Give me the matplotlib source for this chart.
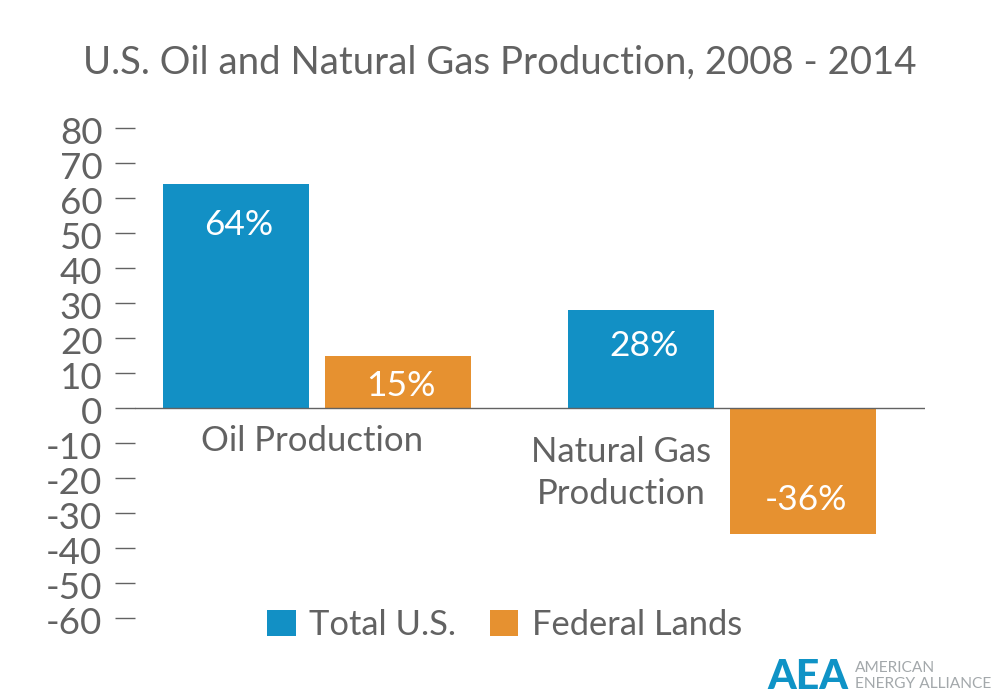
import matplotlib
matplotlib.use('Agg')
import matplotlib.pyplot as plt
from matplotlib.transforms import ScaledTranslation
import numpy as np

plt.rcParams['font.family'] = ['Lato', 'DejaVu Sans']
plt.rcParams['axes.unicode_minus'] = False

# values
groups = ['Oil Production', 'Natural Gas\nProduction']
total_us = [64, 28]
federal = [15, -36]
yticks = [80, 70, 60, 50, 40, 30, 20, 10, 0, -10, -20, -30, -40, -50, -60]

blue = '#1290c5'
orange = '#e69130'
grey = '#626262'

fig = plt.figure(figsize=(10, 7), dpi=100)
ax = fig.add_axes([0.135, 1 - 618 / 700, 0.79, 490 / 700])

x = np.arange(len(groups))
w = 0.36
off = 0.2
b1 = ax.bar(x - off, total_us, w, color=blue, label='Total U.S.')
b2 = ax.bar(x + off, federal, w, color=orange, label='Federal Lands')

# percent labels inside the bars, nudged by hand in pixels
for xi, v, dy in zip(x - off, total_us, [-41, -36]):
    ax.annotate('%d%%' % v, (xi, v), xytext=(3, dy), textcoords='offset pixels',
                ha='center', va='center', color='white', fontsize=25.5)
for xi, v, dy in zip(x + off, federal, [-30, 34]):
    ax.annotate('%d%%' % v, (xi, v), xytext=(3, dy), textcoords='offset pixels',
                ha='center', va='center', color='white', fontsize=25.5)

ax.set_xlim(-0.449, 1.501)
ax.set_ylim(-60, 80)
ax.set_yticks(yticks)
ax.set_xticks([])
ax.tick_params(axis='y', length=14.4, width=1, color=grey, labelcolor=grey, labelsize=26.5, pad=9)
for s in ['top', 'right', 'bottom', 'left']:
    ax.spines[s].set_visible(False)
ax.axhline(0, color=grey, lw=1)

# tick labels sit a little below their ticks
shift = ScaledTranslation(0, -2 / 72, fig.dpi_scale_trans)
for lab in ax.get_yticklabels():
    lab.set_transform(lab.get_transform() + shift)

# category labels under the axis
ax.text(-0.012, -9.5, groups[0], ha='center', va='center', color=grey, fontsize=25)
ax.text(0.752, -18.5, groups[1], ha='center', va='center', color=grey, fontsize=25, linespacing=1.4)

fig.text(0.5, 1 - 63 / 700, 'U.S. Oil and Natural Gas Production, 2008 - 2014',
         ha='center', va='center', color=grey, fontsize=27.6)

fig.legend(handles=[b1, b2], loc='center', bbox_to_anchor=(0.505, 1 - 625 / 700), ncol=2,
           frameon=False, fontsize=24.8, labelcolor=grey, handlelength=0.82, handleheight=0.82,
           handletextpad=0.40, columnspacing=0.98, borderpad=0)

# logo
fig.text(0.767, 1 - 677 / 700, 'AEA', ha='left', va='center', color='#0f93c6',
         fontsize=29.5, fontweight='black')
fig.text(0.855, 1 - 668 / 700, 'AMERICAN', ha='left', va='center', color='#a3a8ab', fontsize=11.2)
fig.text(0.855, 1 - 684 / 700, 'ENERGY ALLIANCE', ha='left', va='center', color='#a3a8ab', fontsize=11.2)

fig.savefig('out.png', dpi=100)
